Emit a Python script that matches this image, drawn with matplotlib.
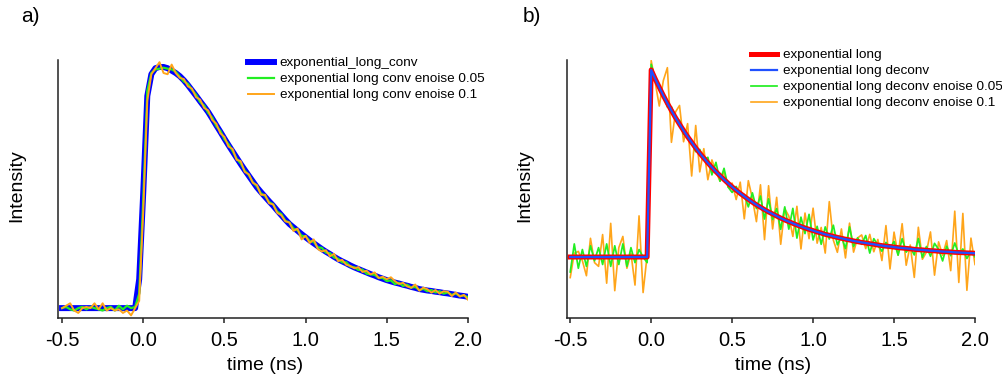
import numpy as np
import matplotlib
matplotlib.use("Agg")
import matplotlib.pyplot as plt

plt.rcParams['font.family'] = ['Liberation Sans', 'DejaVu Sans']
plt.rcParams['axes.unicode_minus'] = False

# time grid (ns), 0.025 ns step
t = np.round(np.arange(-0.5, 2.0001, 0.025), 3)

# panel a: convolved decay and noisy versions (normalised intensity)
a_conv = [
    0, 0, 0, 0, 0, 0, 0, 0, 0, 0,
    0, 0, 0, 0, 0, 0, 0, 0, 0, 0.12,
    0.48, 0.88, 0.97, 0.995, 1.0, 1.0, 0.995, 0.985, 0.975, 0.962,
    0.945, 0.925, 0.903, 0.881, 0.858, 0.836, 0.813, 0.786, 0.758, 0.731,
    0.703, 0.676, 0.650, 0.624, 0.598, 0.573, 0.549, 0.525, 0.501, 0.481,
    0.462, 0.443, 0.425, 0.405, 0.386, 0.367, 0.349, 0.335, 0.321, 0.307,
    0.294, 0.281, 0.269, 0.257, 0.245, 0.234, 0.224, 0.213, 0.203, 0.194,
    0.186, 0.177, 0.169, 0.162, 0.155, 0.148, 0.141, 0.135, 0.128, 0.122,
    0.116, 0.111, 0.106, 0.102, 0.097, 0.093, 0.088, 0.084, 0.079, 0.076,
    0.073, 0.071, 0.068, 0.066, 0.063, 0.061, 0.058, 0.055, 0.052, 0.050,
    0.047]
a_noise005 = [
    0.0, 0.005, -0.005, -0.01, 0.0, 0.005, -0.005, 0.005, 0.0, -0.005,
    -0.01, 0.0, 0.005, -0.01, 0.01, -0.005, 0.01, 0.0, 0.005, 0.06,
    0.45, 0.90, 0.975, 0.99, 0.993, 0.997, 0.993, 0.99, 0.98, 0.96,
    0.94, 0.93, 0.905, 0.885, 0.855, 0.84, 0.81, 0.79, 0.755, 0.735,
    0.70, 0.68, 0.652, 0.62, 0.60, 0.57, 0.552, 0.522, 0.505, 0.476,
    0.465, 0.44, 0.43, 0.40, 0.39, 0.362, 0.355, 0.33, 0.323, 0.30,
    0.298, 0.278, 0.275, 0.252, 0.25, 0.23, 0.228, 0.21, 0.205, 0.19,
    0.19, 0.172, 0.17, 0.158, 0.16, 0.143, 0.14, 0.138, 0.125, 0.125,
    0.112, 0.115, 0.10, 0.105, 0.092, 0.097, 0.085, 0.088, 0.075, 0.08,
    0.07, 0.075, 0.065, 0.07, 0.06, 0.065, 0.055, 0.06, 0.05, 0.052,
    0.045]
a_noise01 = [
    0.0, 0.01, 0.02, -0.01, -0.02, 0.0, 0.005, 0.0, 0.02, -0.005,
    0.02, -0.01, 0.0, -0.01, -0.005, -0.02, -0.01, -0.03, 0.0, 0.03,
    0.40, 0.86, 0.97, 0.995, 1.02, 0.975, 0.97, 1.01, 0.975, 0.955,
    0.95, 0.92, 0.91, 0.875, 0.865, 0.83, 0.82, 0.78, 0.765, 0.725,
    0.71, 0.67, 0.66, 0.615, 0.61, 0.565, 0.555, 0.52, 0.51, 0.47,
    0.47, 0.435, 0.43, 0.395, 0.385, 0.36, 0.355, 0.32, 0.33, 0.285,
    0.30, 0.27, 0.285, 0.245, 0.235, 0.24, 0.215, 0.225, 0.195, 0.20,
    0.18, 0.175, 0.165, 0.17, 0.15, 0.155, 0.14, 0.148, 0.125, 0.13,
    0.12, 0.128, 0.112, 0.10, 0.105, 0.09, 0.084, 0.098, 0.072, 0.085,
    0.078, 0.064, 0.075, 0.06, 0.07, 0.068, 0.05, 0.065, 0.048, 0.055,
    0.035]

# panel b: true decay, deconvolved decay and noisy deconvolutions
b_long = [
    0, 0, 0, 0, 0, 0, 0, 0, 0, 0,
    0, 0, 0, 0, 0, 0, 0, 0, 0, 0,
    1.000, 0.952, 0.907, 0.863, 0.822, 0.783, 0.745, 0.710, 0.676, 0.643,
    0.613, 0.583, 0.555, 0.529, 0.503, 0.479, 0.456, 0.435, 0.414, 0.394,
    0.375, 0.357, 0.340, 0.324, 0.308, 0.293, 0.279, 0.266, 0.253, 0.241,
    0.230, 0.219, 0.208, 0.198, 0.189, 0.180, 0.171, 0.163, 0.155, 0.148,
    0.141, 0.134, 0.128, 0.121, 0.116, 0.110, 0.105, 0.100, 0.095, 0.091,
    0.086, 0.082, 0.078, 0.075, 0.071, 0.068, 0.064, 0.061, 0.058, 0.056,
    0.053, 0.050, 0.048, 0.046, 0.044, 0.041, 0.039, 0.038, 0.036, 0.034,
    0.033, 0.031, 0.029, 0.028, 0.027, 0.025, 0.024, 0.023, 0.022, 0.021,
    0.020]
b_deconv = list(b_long)
b_noise005 = [
    -0.08, 0.07, -0.06, 0.04, -0.05, 0.06, -0.02, 0.05, -0.04, 0.07,
    -0.05, 0.06, -0.04, 0.07, -0.05, 0.05, -0.03, 0.04, 0.00, -0.03,
    1.03, 0.952, 0.897, 0.873, 0.802, 0.803, 0.735, 0.730, 0.656, 0.653,
    0.613, 0.563, 0.575, 0.519, 0.533, 0.439, 0.506, 0.405, 0.474, 0.374,
    0.345, 0.377, 0.330, 0.334, 0.268, 0.343, 0.259, 0.326, 0.203, 0.311,
    0.200, 0.259, 0.148, 0.268, 0.149, 0.260, 0.101, 0.213, 0.125, 0.228,
    0.091, 0.164, 0.068, 0.161, 0.096, 0.170, 0.065, 0.110, 0.045, 0.161,
    0.056, 0.102, 0.068, 0.115, 0.021, 0.098, 0.064, 0.031, 0.078, 0.046,
    0.083, 0.010, 0.098, 0.026, 0.054, 0.011, 0.099, -0.002, 0.056, 0.004,
    0.073, 0.041, -0.021, 0.058, 0.007, 0.075, 0.014, 0.043, -0.008, 0.031,
    0.000]
b_noise01 = [
    -0.11, 0.02, 0.03, -0.02, -0.10, 0.10, -0.03, -0.05, 0.12, -0.14,
    0.18, -0.18, 0.05, 0.11, -0.06, 0.02, -0.15, 0.22, -0.19, 0.01,
    1.05, 0.932, 0.807, 0.943, 1.012, 0.613, 0.775, 0.810, 0.616, 0.713,
    0.433, 0.703, 0.455, 0.579, 0.413, 0.519, 0.456, 0.405, 0.454, 0.374,
    0.395, 0.307, 0.400, 0.204, 0.408, 0.313, 0.189, 0.386, 0.093, 0.381,
    0.150, 0.319, 0.068, 0.258, 0.219, 0.110, 0.271, 0.043, 0.235, 0.098,
    0.261, 0.074, 0.158, 0.021, 0.296, 0.090, 0.025, 0.150, -0.005, 0.181,
    0.026, 0.102, 0.118, 0.045, 0.121, 0.028, 0.094, -0.019, 0.168, -0.064,
    0.133, 0.010, 0.178, -0.044, 0.064, -0.109, 0.159, -0.012, 0.026, 0.134,
    -0.097, 0.081, 0.009, 0.088, -0.073, 0.245, -0.136, 0.233, -0.178, 0.101,
    -0.040]

xticks = [-0.5, 0.0, 0.5, 1.0, 1.5, 2.0]
xticklabels = ['-0.5', '0.0', '0.5', '1.0', '1.5', '2.0']

W, H = 1003, 382
fig = plt.figure(figsize=(W / 100, H / 100), dpi=100)


def px_axes(x0, y0, x1, y1):
    # rectangle given in pixel coords (top-left origin)
    return fig.add_axes([x0 / W, 1 - y1 / H, (x1 - x0) / W, (y1 - y0) / H])


def style(ax, xlim, ylim):
    ax.set_xlim(*xlim)
    ax.set_ylim(*ylim)
    for s in ['top', 'right']:
        ax.spines[s].set_visible(False)
    for s in ['left', 'bottom']:
        ax.spines[s].set_linewidth(1.1)
        ax.spines[s].set_color('#222222')
    ax.set_yticks([])
    ax.set_xticks(xticks)
    ax.set_xticklabels(xticklabels)
    ax.tick_params(axis='x', direction='out', length=3.5, width=1.1,
                   color='#222222', labelsize=14.5, pad=6)


green = '#22ee22'
orange = '#ffa51a'
leg_kw = dict(frameon=False, fontsize=9.7, handlelength=1.9, handletextpad=0.45,
              labelspacing=0.26, borderpad=0, borderaxespad=0,
              bbox_transform=fig.transFigure, loc='upper left')

# ---- panel a ----
ax1 = px_axes(58, 60, 468, 318)
ax1.plot(t, a_conv, color='#0000ff', lw=4.3, label='exponential_long_conv')
ax1.plot(t, a_noise005, color=green, lw=1.6, zorder=3,
         label='exponential long conv enoise 0.05')
ax1.plot(t, a_noise01, color=orange, lw=1.4, zorder=4,
         label='exponential long conv enoise 0.1')
style(ax1, (-0.525, 2.0), (-0.041, 1.029))
ax1.legend(bbox_to_anchor=(248 / W, 1 - 57 / H), **leg_kw)

# ---- panel b ----
ax2 = px_axes(567, 60, 975, 318)
ax2.plot(t, b_noise01, color=orange, lw=1.2, zorder=2,
         label='exponential long deconv enoise 0.1')
ax2.plot(t, b_noise005, color=green, lw=1.25, zorder=2.5,
         label='exponential long deconv enoise 0.05')
ax2.plot(t, b_long, color='#ff0000', lw=3.6, zorder=3, label='exponential long')
ax2.plot(t, b_deconv, color='#2050ff', lw=1.6, zorder=4,
         label='exponential long deconv')
style(ax2, (-0.52, 2.0), (-0.326, 1.053))
h, l = ax2.get_legend_handles_labels()
ax2.legend([h[2], h[3], h[1], h[0]], [l[2], l[3], l[1], l[0]],
           bbox_to_anchor=(751 / W, 1 - 49 / H), **leg_kw)

# labels
fig.text(30 / W, 1 - 17 / H, 'a)', fontsize=15, ha='center', va='center')
fig.text(532 / W, 1 - 17 / H, 'b)', fontsize=15, ha='center', va='center')
fig.text(17 / W, 1 - 186 / H, 'Intensity', fontsize=14, rotation=90,
         ha='center', va='center')
fig.text(525 / W, 1 - 186 / H, 'Intensity', fontsize=14, rotation=90,
         ha='center', va='center')
fig.text(265 / W, 1 - 366 / H, 'time (ns)', fontsize=14, ha='center', va='center')
fig.text(773 / W, 1 - 366 / H, 'time (ns)', fontsize=14, ha='center', va='center')

fig.savefig('out.png', dpi=100)
